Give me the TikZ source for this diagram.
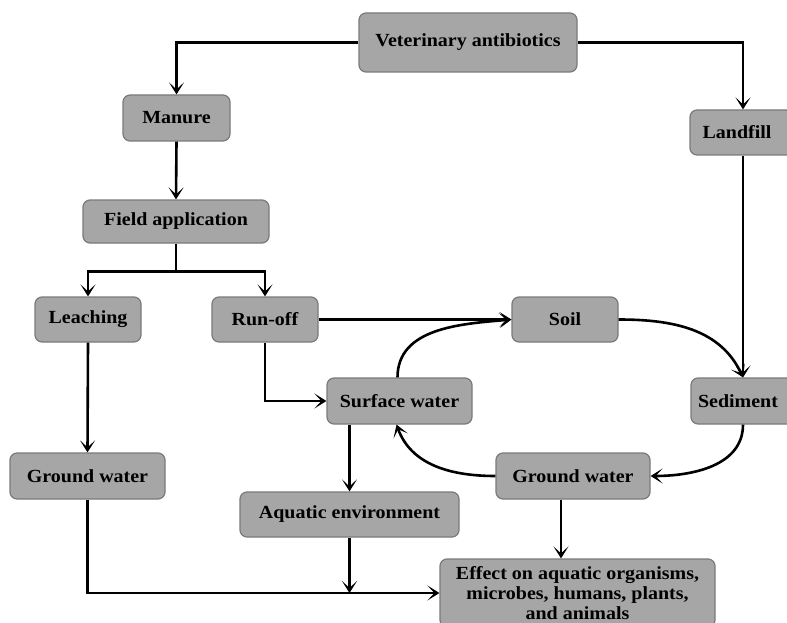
\documentclass[tikz,border=0pt]{standalone}
\usepackage{fontspec}
\setmainfont{Liberation Serif}[FakeStretch=1.08]
\usetikzlibrary{arrows.meta}
\definecolor{boxfill}{HTML}{A6A6A6}
\definecolor{boxline}{HTML}{7A7A7A}
\begin{document}
\begin{tikzpicture}[x=1pt,y=-1pt,
  box/.style={draw=boxline, fill=boxfill, rounded corners=7pt, line width=1.2pt,
    inner sep=0pt, align=center, font=\fontsize{18.5}{20}\selectfont\bfseries},
  arr/.style={line width=2.6pt, -{Stealth[length=12pt,width=15pt,inset=7pt]}},
  ln/.style={line width=2.6pt}]
\path[use as bounding box, clip] (0,0) rectangle (787,623);
\fill[white] (0,0) rectangle (787,623);
\node[box, minimum width=218pt, minimum height=59pt] (vet) at (468,42.5) {Veterinary antibiotics};
\node[box, minimum width=107pt, minimum height=46pt] (manure) at (176.5,118) {Manure};
\node[box, minimum width=106pt, minimum height=45pt] (landfill) at (743,132.5) {\hspace*{-12pt}Landfill};
\node[box, minimum width=186pt, minimum height=43pt] (field) at (176,221.5) {Field application};
\node[box, minimum width=106pt, minimum height=45pt] (leach) at (88,319.5) {Leaching};
\node[box, minimum width=106pt, minimum height=45pt] (runoff) at (265,319.5) {Run-off};
\node[box, minimum width=106pt, minimum height=45pt] (soil) at (565,319.5) {Soil};
\node[box, minimum width=145pt, minimum height=46pt] (surf) at (399.5,401) {Surface water};
\node[box, minimum width=104pt, minimum height=46pt] (sed) at (743,401) {\hspace*{-10pt}Sediment};
\node[box, minimum width=155pt, minimum height=46pt] (gwl) at (87.5,476) {Ground water};
\node[box, minimum width=154pt, minimum height=46pt] (gwr) at (573,476) {Ground water};
\node[box, minimum width=219pt, minimum height=45pt] (aqua) at (349.5,514.5) {Aquatic environment};
\node[box, minimum width=275pt, minimum height=68pt] (effect) at (577.5,593) {Effect on aquatic organisms,\\microbes, humans, plants,\\and animals};
% connectors
\draw[arr] (vet.west) -| (manure.north);
\draw[arr] (vet.east) -| (landfill.north);
\draw[arr] (manure.south) -- (field.north);
\draw[ln] (field.south) -- ++(0,28) coordinate (fj);
\draw[arr] (fj) -| (leach.north);
\draw[arr] (fj) -| (runoff.north);
\draw[arr] (runoff.east) -- (soil.west);
\draw[arr] (runoff.south) |- (surf.west);
\draw[arr] (leach.south) -- (gwl.north);
\draw[arr] (gwl.south) |- (effect.west);
\draw[arr] (aqua.north |- surf.south) -- (aqua.north);
\draw[arr] (aqua.south) -- (aqua.south |- effect.west);
\draw[arr] ([xshift=-12pt]gwr.south) -- ([xshift=-12pt]gwr.south |- effect.north);
\draw[arr] (landfill.south) -- (sed.north);
% cycle
\draw[arr] (soil.east) to[out=0,in=115] (sed.north);
\draw[arr] (sed.south) to[out=-90,in=0] (gwr.east);
\draw[arr] (gwr.west) to[out=180,in=-70] ([xshift=-3pt]surf.south);
\draw[arr] ([xshift=-2pt]surf.north) to[out=90,in=185] (soil.west);
\end{tikzpicture}
\end{document}
